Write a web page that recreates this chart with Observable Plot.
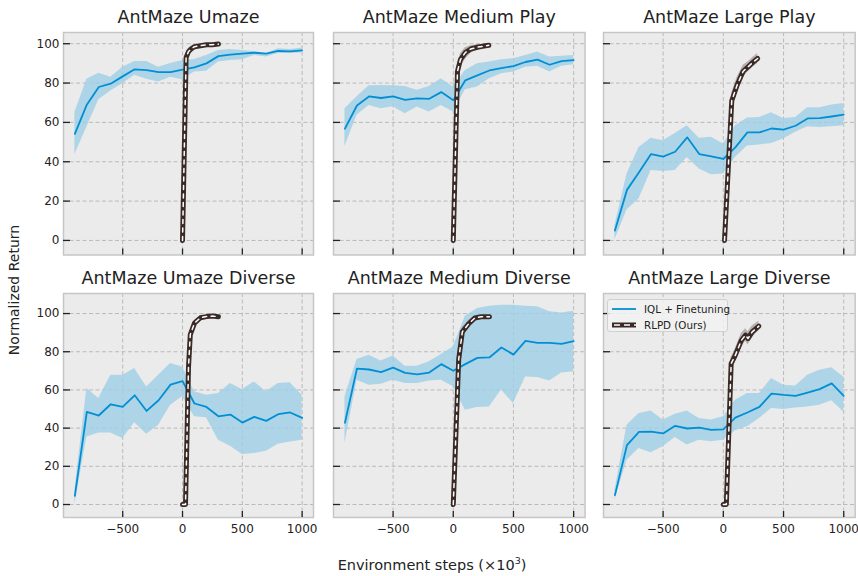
<!DOCTYPE html>
<html><head><meta charset="utf-8">
<script src="https://cdn.jsdelivr.net/npm/d3@7"></script>
<script src="https://cdn.jsdelivr.net/npm/@observablehq/plot@0.6"></script>
<style>
body{margin:0;background:#fff;}
#fig{position:relative;width:858px;height:576px;font-family:"DejaVu Sans",sans-serif;overflow:hidden;background:#fff;color:#222;}
.panel{position:absolute;}
#ylab{position:absolute;left:14px;top:290px;transform:translate(-50%,-50%) rotate(-90deg);font-size:14px;white-space:nowrap;}
#xlab{position:absolute;left:432px;top:564px;transform:translate(-50%,-50%);font-size:14.5px;white-space:nowrap;}
#legend{position:absolute;left:607px;top:298.5px;width:121px;height:33px;background:rgba(242,242,242,0.85);border:1px solid #d0d0d0;border-radius:3px;font-size:10.3px;z-index:5;box-sizing:border-box;}
.lrow{position:absolute;left:0;height:14px;display:flex;align-items:center;white-space:nowrap;}
.lrow svg{margin-left:4px;margin-right:8px;}
</style></head><body><div id="fig"></div>
<script>
// ---- data ----
const titles = ["AntMaze Umaze","AntMaze Medium Play","AntMaze Large Play","AntMaze Umaze Diverse","AntMaze Medium Diverse","AntMaze Large Diverse"];
const seriesNames = ["IQL + Finetuning","RLPD (Ours)"];
const iqlSteps = [-900,-800,-700,-600,-500,-400,-300,-200,-100,0,100,200,300,400,500,600,700,800,900,1000];
const xTickValues = [-500,0,500,1000];
const yTickValues = [0,20,40,60,80,100];

// AntMaze Umaze
const iqlMeanUmaze = [54.2,69,78,79.7,83.4,87,86.6,85.6,85.6,86.8,88,90,93.7,94.4,95,95.4,95,96.3,96.1,96.6];
const iqlLoUmaze   = [43.7,57.5,71.5,76,79.7,84,82,80.5,83,81.7,85.6,86,90.7,91.5,91.9,94,93.2,95,95,95.3];
const iqlHiUmaze   = [65,82,85,83,88,91,91,88,90,91.5,92,94,96.6,97,96.6,96,95,97.5,97,97.8];
const rlpdStepUmaze = [0,30,50,75,100,150,200,250,300];
const rlpdMeanUmaze = [0,93,96,97.5,98.5,99,99.5,99.5,99.8];
const rlpdLoUmaze   = [-1,91,94.5,96.5,97.5,98.5,99,99,99.3];
const rlpdHiUmaze   = [1,95,97.5,98.5,99.3,99.6,100,100,100.2];

// AntMaze Medium Play
const iqlMeanMedPlay = [56.8,68.6,73.2,72.4,73.2,71.5,72.2,72,75.4,71.2,81.4,83.9,86.4,87.6,88.6,90.7,91.9,89.3,91.2,91.7];
const iqlLoMedPlay   = [47.8,63.6,68.6,67,68,64.4,67.8,65.3,68.6,65.3,76.6,78,82.2,84.7,85.6,88,88.5,85.6,88.5,89.3];
const iqlHiMedPlay   = [67,73,78.6,78.8,78.6,78.3,76.3,78.3,82.2,78,86.4,89.8,90.7,91.9,92.4,94,95.8,93.2,93.6,94];
const rlpdStepMedPlay = [0,35,60,100,145,200,255,295];
const rlpdMeanMedPlay = [0,86,92,95.5,97.3,98.2,98.8,99.2];
const rlpdLoMedPlay   = [-1,83,88,92,95,97,98,98.5];
const rlpdHiMedPlay   = [1,89,95,98,99,99.5,99.7,100];

// AntMaze Large Play
const iqlMeanLgPlay = [5,25.7,34.6,43.9,42.6,45.1,52.4,43.9,42.7,41.4,47.3,54.9,54.9,56.9,56.3,58.3,62,62.2,63,63.9];
const iqlLoLgPlay   = [0.3,15.5,21,35.5,35,35.5,42.2,36.3,33.4,33.8,42.2,48,48.5,49.3,51.5,55,57.8,57.4,57.8,58.3];
const iqlHiLgPlay   = [7.6,33.8,47.3,52,50.7,54.4,58.3,52,52.4,49,58.3,62.2,62.5,64.9,62,62.5,67.4,67.4,68.8,69.6];
const rlpdStepLgPlay = [10,70,115,165,210,245,285];
const rlpdMeanLgPlay = [0,71,79,86,88.5,90.5,92.5];
const rlpdLoLgPlay   = [-1,67,75,83,86,88,90];
const rlpdHiLgPlay   = [1,75,83,89,91,93,95];

// AntMaze Umaze Diverse
const iqlMeanUmDiv = [4.5,48.5,46.6,52.5,51.1,57.2,49,54.6,62.8,64.6,52.9,51.1,46.2,47.1,42.9,45.9,43.8,47.3,48.2,45.4];
const iqlLoUmDiv   = [0,35.4,37.5,37.5,34.6,42.8,36.8,41.5,52,56.4,45.9,45.5,33.7,30.5,26.2,26.7,27.9,31.6,32.8,33.7];
const iqlHiUmDiv   = [7.5,60.7,55.5,67.7,67.7,71.2,61.6,67.7,73.8,72,59,57.2,58.1,63.4,60.2,64.2,59,63.4,63.7,57.2];
const rlpdStepUmDiv = [0,25,50,65,100,150,200,250,300];
const rlpdMeanUmDiv = [0,0,72,89,95,97.8,98.4,98.7,98.3];
const rlpdLoUmDiv   = [-1,-1,69,87,93.5,96.8,97.8,98.2,97.8];
const rlpdHiUmDiv   = [1,1,75,91,96.5,98.8,99,99.2,98.8];

// AntMaze Medium Diverse
const iqlMeanMedDiv = [42.8,71.2,70.7,69.3,71.7,68.9,68.1,69.1,73.5,70,73.5,76.8,77,82.2,78.5,85.7,84.6,84.6,84.1,85.5];
const iqlLoMedDiv   = [31.9,65.1,62.5,63,65.1,63.4,63.4,64.7,65.1,61.6,49.4,50.8,51.1,59.9,52.9,66.8,66.5,64.7,68.9,69.5];
const iqlHiMedDiv   = [56.4,75.9,78.2,75.2,77.8,72.4,72.4,74.7,78.5,82.5,98.6,102.6,103.8,104.4,104.4,103.8,103.5,100.9,100.3,101.2];
const rlpdStepMedDiv = [0,45,75,130,180,230,300];
const rlpdMeanMedDiv = [0,76,90.4,94.8,97.7,98.3,98.3];
const rlpdLoMedDiv   = [-1,73,88,93,96.7,97.5,97.6];
const rlpdHiMedDiv   = [1,79,92.5,96.5,98.7,99,99];

// AntMaze Large Diverse
const iqlMeanLgDiv = [4.9,31.1,38,38.2,37.2,41.2,39.8,40.3,39.1,39.3,45.5,48.2,51.1,58.1,57.4,56.9,58.6,60.4,63.4,56.9];
const iqlLoLgDiv   = [2.3,23.2,29.3,27.1,30.2,35.1,31.1,33.7,32.8,33.7,38.6,40.7,45,50.3,49.7,50.6,51.1,52,54.3,48.5];
const iqlHiLgDiv   = [7.5,41.5,47.6,49,44.2,47.3,49,45,44.2,45.9,54.6,58.1,58.1,66,62.5,62,67.7,70.3,71.6,66.8];
const rlpdStepLgDiv = [0,25,65,100,150,185,205,240,295];
const rlpdMeanLgDiv = [0,0,73.8,78.2,86,88.7,86.9,90.4,93.4];
const rlpdLoLgDiv   = [-1,-1,70.5,75,82.5,85.5,83.5,87.5,91];
const rlpdHiLgDiv   = [1,1,77,81.5,89.5,92,90.5,93.5,96];

// ---- layout (not data) ----
const colFrames = [[63,313],[332.7,584.3],[603.3,855]];
const rowFrames = [[32,254.5],[293.3,517.3]];
const rowYDomain = [[-7.4,105.7],[-6.8,110.5]];
const xDomain = [-995,1095];
const C = {bg:"#ebebeb", grid:"#b4b4b4", iql:"#008fd5", iqlBand:"#9fd0e6", rlpd:"#3a2a26", rlpdBand:"#8a8280", frame:"#c6c6c6", ink:"#222"};

const panels = [
  {t:titles[0], m:iqlMeanUmaze, lo:iqlLoUmaze, hi:iqlHiUmaze, rs:rlpdStepUmaze, rm:rlpdMeanUmaze, rl:rlpdLoUmaze, rh:rlpdHiUmaze},
  {t:titles[1], m:iqlMeanMedPlay, lo:iqlLoMedPlay, hi:iqlHiMedPlay, rs:rlpdStepMedPlay, rm:rlpdMeanMedPlay, rl:rlpdLoMedPlay, rh:rlpdHiMedPlay},
  {t:titles[2], m:iqlMeanLgPlay, lo:iqlLoLgPlay, hi:iqlHiLgPlay, rs:rlpdStepLgPlay, rm:rlpdMeanLgPlay, rl:rlpdLoLgPlay, rh:rlpdHiLgPlay},
  {t:titles[3], m:iqlMeanUmDiv, lo:iqlLoUmDiv, hi:iqlHiUmDiv, rs:rlpdStepUmDiv, rm:rlpdMeanUmDiv, rl:rlpdLoUmDiv, rh:rlpdHiUmDiv},
  {t:titles[4], m:iqlMeanMedDiv, lo:iqlLoMedDiv, hi:iqlHiMedDiv, rs:rlpdStepMedDiv, rm:rlpdMeanMedDiv, rl:rlpdLoMedDiv, rh:rlpdHiMedDiv},
  {t:titles[5], m:iqlMeanLgDiv, lo:iqlLoLgDiv, hi:iqlHiLgDiv, rs:rlpdStepLgDiv, rm:rlpdMeanLgDiv, rl:rlpdLoLgDiv, rh:rlpdHiLgDiv}
];

const fig = document.getElementById("fig");
const ml = 50, mr = 4, mt = 34, mb = 26;
const fmt = d3.format("d");

panels.forEach((p, i) => {
  const r = Math.floor(i / 3), c = i % 3;
  const [fl, fr] = colFrames[c], [ft, fb] = rowFrames[r];
  const iql = iqlSteps.map((s, k) => ({step: s, mean: p.m[k], lo: p.lo[k], hi: p.hi[k]}));
  const rl = p.rs.map((s, k) => ({step: s, mean: p.rm[k], lo: p.rl[k], hi: p.rh[k]}));
  const showY = c === 0, showX = r === 1;
  const chart = Plot.plot({
    width: (fr - fl) + ml + mr,
    height: (fb - ft) + mt + mb,
    marginLeft: ml, marginRight: mr, marginTop: mt, marginBottom: mb,
    style: {background: "transparent", fontFamily: "DejaVu Sans", fontSize: "12px", color: C.ink, overflow: "visible"},
    x: {domain: xDomain},
    y: {domain: rowYDomain[r]},
    marks: [
      Plot.frame({fill: C.bg}),
      Plot.gridX(xTickValues, {stroke: C.grid, strokeOpacity: 1, strokeWidth: 0.9, strokeDasharray: "4,2.5"}),
      Plot.gridY(yTickValues, {stroke: C.grid, strokeOpacity: 1, strokeWidth: 0.9, strokeDasharray: "4,2.5"}),
      Plot.areaY(iql, {x: "step", y1: "lo", y2: "hi", fill: C.iqlBand, fillOpacity: 0.8}),
      Plot.lineY(iql, {x: "step", y: "mean", stroke: C.iql, strokeWidth: 1.8}),
      Plot.areaY(rl, {x: "step", y1: "lo", y2: "hi", fill: C.rlpdBand, fillOpacity: 0.55}),
      Plot.lineY(rl, {x: "step", y: "mean", stroke: C.rlpd, strokeWidth: 5, strokeLinejoin: "round"}),
      Plot.lineY(rl, {x: "step", y: "mean", stroke: "#ffffff", strokeWidth: 1.5, strokeDasharray: "4,4.5"}),
      Plot.frame({stroke: C.frame, strokeWidth: 1.5}),
      Plot.axisX(xTickValues, {tickSize: -6, tickPadding: 13, label: null, stroke: C.ink, strokeWidth: 1.3, fill: showX ? C.ink : "none", fontSize: 12, tickFormat: fmt}),
      Plot.axisY(yTickValues, {tickSize: -7, tickPadding: 11, label: null, stroke: C.ink, strokeWidth: 1.3, fill: showY ? C.ink : "none", fontSize: 12, tickFormat: fmt}),
      Plot.text([p.t], {frameAnchor: "top", dy: -22, fontSize: 17.5, fill: C.ink})
    ]
  });
  chart.classList.add("panel");
  chart.style.left = (fl - ml) + "px";
  chart.style.top = (ft - mt) + "px";
  fig.appendChild(chart);
});

const ylab = document.createElement("div");
ylab.id = "ylab"; ylab.textContent = "Normalized Return";
fig.appendChild(ylab);
const xlab = document.createElement("div");
xlab.id = "xlab"; xlab.innerHTML = "Environment steps (×10<sup style='font-size:9.5px'>3</sup>)";
fig.appendChild(xlab);

const legend = document.createElement("div");
legend.id = "legend";
const sw = [
  `<svg width="24" height="8"><line x1="0" x2="24" y1="4" y2="4" stroke="${C.iql}" stroke-width="1.8"/></svg>`,
  `<svg width="24" height="8"><line x1="0" x2="24" y1="4" y2="4" stroke="${C.rlpd}" stroke-width="5"/><line x1="2" x2="24" y1="4" y2="4" stroke="#fff" stroke-width="1.5" stroke-dasharray="6,4"/></svg>`
];
seriesNames.forEach((n, k) => {
  const row = document.createElement("div");
  row.className = "lrow";
  row.style.top = (2.5 + k * 15.6) + "px";
  row.innerHTML = sw[k] + `<span>${n}</span>`;
  legend.appendChild(row);
});
fig.appendChild(legend);
</script></body></html>
